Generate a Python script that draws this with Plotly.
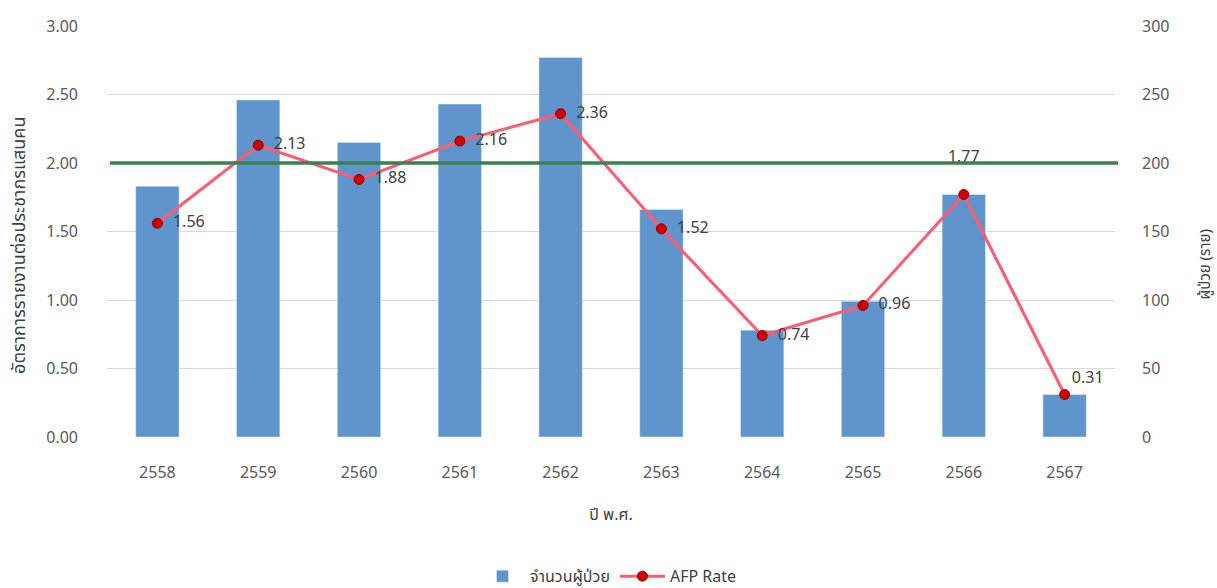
import plotly.graph_objects as go

years = ["2558", "2559", "2560", "2561", "2562", "2563", "2564", "2565", "2566", "2567"]
patients = [183, 246, 215, 243, 277, 166, 78, 99, 177, 31]
afp_rate = [1.56, 2.13, 1.88, 2.16, 2.36, 1.52, 0.74, 0.96, 1.77, 0.31]
target_rate = 2.0
label_pos = ["middle right"] * 8 + ["top center", "top right"]
left_title = "อัตราการรายงานต่อประชากรแสนคน"
right_title = "ผู้ป่วย (ราย)"
x_title = "ปี พ.ศ."

FONT = "Tahoma, 'Noto Sans Thai', 'Noto Sans', sans-serif"

labels = []
for v, p in zip(afp_rate, label_pos):
    if p == "middle right":
        labels.append(f"  {v:.2f}")
    elif p == "top center":
        labels.append(f"{v:.2f}<br> ")
    else:
        labels.append(f"{v:.2f}")

fig = go.Figure()
fig.add_trace(go.Bar(
    x=years, y=patients, name="จำนวนผู้ป่วย", yaxis="y",
    marker=dict(color="#5F95CC"), width=0.43,
))
fig.add_trace(go.Scatter(
    x=years, y=afp_rate, name="AFP Rate", yaxis="y2",
    mode="lines+markers+text",
    line=dict(color="#FF5A70", width=3),
    marker=dict(color="#D00000", size=10, line=dict(color="#900000", width=1)),
    text=labels, textposition=label_pos,
    textfont=dict(size=16, color="#404040", family=FONT),
))

fig.add_shape(type="line", xref="paper", yref="y2", x0=0.003, x1=1.003,
              y0=target_rate, y1=target_rate, line=dict(color="#3C8050", width=3.5),
              layer="above")

fig.add_annotation(text=left_title, xref="paper", yref="paper", x=-0.0863, y=0.465,
                   xanchor="center", yanchor="middle", textangle=-90, showarrow=False,
                   font=dict(size=18, color="#404040", family=FONT))
fig.add_annotation(text=right_title, xref="paper", yref="paper", x=1.0893, y=0.42,
                   xanchor="center", yanchor="middle", textangle=-90, showarrow=False,
                   font=dict(size=15, color="#404040", family=FONT))

fig.update_layout(
    width=1217, height=588,
    margin=dict(l=107, r=102, t=26, b=151, autoexpand=False),
    paper_bgcolor="white", plot_bgcolor="white",
    font=dict(family=FONT, size=16, color="#595959"),
    xaxis=dict(type="category", range=[-0.5, 9.5], showgrid=False, showline=False,
               ticks="", ticklabelstandoff=24, tickfont=dict(size=16),
               title=dict(text=x_title, font=dict(size=16, color="#404040"), standoff=24)),
    yaxis=dict(range=[0, 300], dtick=50, side="right",
               gridcolor="#D9D9D9", gridwidth=1, zeroline=False,
               ticklabelstandoff=26, tickfont=dict(size=16)),
    yaxis2=dict(range=[0, 3.0], dtick=0.5, tickformat=".2f", overlaying="y", side="left",
                showgrid=False, zeroline=False, ticklabelstandoff=28, tickfont=dict(size=16)),
    legend=dict(orientation="h", x=0.5, xanchor="center", xref="container",
                y=0.02, yanchor="middle", yref="container", itemwidth=45,
                font=dict(size=16, color="#404040"), traceorder="normal"),
    showlegend=True,
)

fig.write_html("out.html")
